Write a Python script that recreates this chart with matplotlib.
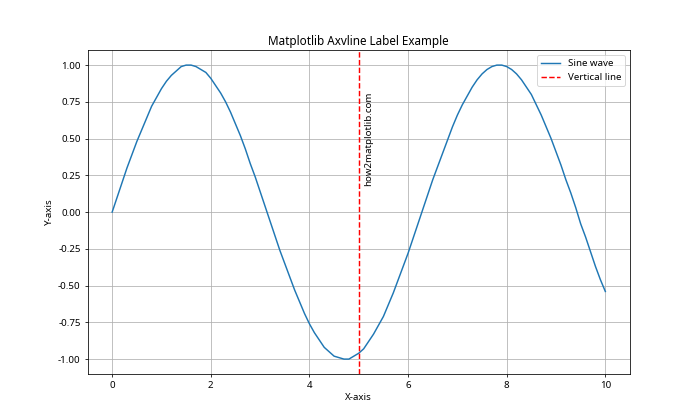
import matplotlib
matplotlib.use("Agg")
import matplotlib.pyplot as plt

plt.rcParams['font.family'] = ['Noto Sans', 'DejaVu Sans']
plt.rcParams['axes.unicode_minus'] = False

# sine wave, step 0.1
x = [0.0, 0.1, 0.2, 0.3, 0.4, 0.5, 0.6, 0.7, 0.8, 0.9,
     1.0, 1.1, 1.2, 1.3, 1.4, 1.5, 1.6, 1.7, 1.8, 1.9,
     2.0, 2.1, 2.2, 2.3, 2.4, 2.5, 2.6, 2.7, 2.8, 2.9,
     3.0, 3.1, 3.2, 3.3, 3.4, 3.5, 3.6, 3.7, 3.8, 3.9,
     4.0, 4.1, 4.2, 4.3, 4.4, 4.5, 4.6, 4.7, 4.8, 4.9,
     5.0, 5.1, 5.2, 5.3, 5.4, 5.5, 5.6, 5.7, 5.8, 5.9,
     6.0, 6.1, 6.2, 6.3, 6.4, 6.5, 6.6, 6.7, 6.8, 6.9,
     7.0, 7.1, 7.2, 7.3, 7.4, 7.5, 7.6, 7.7, 7.8, 7.9,
     8.0, 8.1, 8.2, 8.3, 8.4, 8.5, 8.6, 8.7, 8.8, 8.9,
     9.0, 9.1, 9.2, 9.3, 9.4, 9.5, 9.6, 9.7, 9.8, 9.9,
     10.0]
y = [0.00, 0.10, 0.20, 0.30, 0.39, 0.48, 0.56, 0.64, 0.72, 0.78,
     0.84, 0.89, 0.93, 0.96, 0.99, 1.00, 1.00, 0.99, 0.97, 0.95,
     0.91, 0.86, 0.81, 0.75, 0.68, 0.60, 0.52, 0.43, 0.33, 0.24,
     0.14, 0.04, -0.06, -0.16, -0.26, -0.35, -0.44, -0.53, -0.61, -0.69,
     -0.76, -0.82, -0.87, -0.92, -0.95, -0.98, -0.99, -1.00, -1.00, -0.98,
     -0.96, -0.93, -0.88, -0.83, -0.77, -0.71, -0.63, -0.55, -0.46, -0.37,
     -0.28, -0.18, -0.08, 0.02, 0.12, 0.22, 0.31, 0.40, 0.49, 0.58,
     0.66, 0.73, 0.79, 0.85, 0.90, 0.94, 0.97, 0.99, 1.00, 1.00,
     0.99, 0.97, 0.94, 0.90, 0.85, 0.80, 0.73, 0.66, 0.58, 0.50,
     0.41, 0.32, 0.22, 0.13, 0.03, -0.08, -0.17, -0.27, -0.37, -0.46,
     -0.54]

vline_x = 5
label_text = 'how2matplotlib.com'

fig, ax = plt.subplots(figsize=(10, 6), dpi=70)
ax.plot(x, y, label='Sine wave')
ax.axvline(x=vline_x, color='r', linestyle='--', label='Vertical line')
ax.text(vline_x + 0.1, 0.5, label_text, rotation=90, va='center', ha='left')

ax.set_title('Matplotlib Axvline Label Example')
ax.set_xlabel('X-axis')
ax.set_ylabel('Y-axis')
ax.legend()
ax.grid(True)

fig.savefig('out.png')
